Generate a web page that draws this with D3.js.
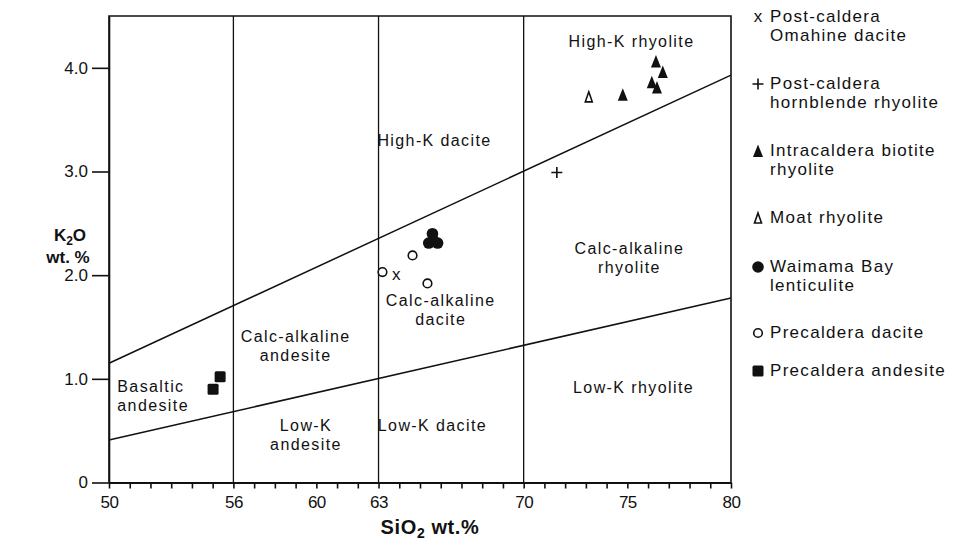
<!DOCTYPE html>
<html>
<head>
<meta charset="utf-8">
<script src="https://cdn.jsdelivr.net/npm/d3@7"></script>
<style>
  html, body { margin: 0; padding: 0; background: #fff; }
  svg { display: block; font-family: "Liberation Sans", Arial, sans-serif; }
  .lbl { font-size: 16px; letter-spacing: 1.4px; fill: #111; }
  .leg { font-size: 17px; letter-spacing: 1.3px; fill: #111; }
  .tick { font-size: 16px; fill: #111; }
</style>
</head>
<body>
<svg id="chart" width="956" height="542"></svg>
<script>
// axis ticks
const xTickLabels = [50, 56, 60, 63, 70, 75, 80];
const yTickLabels = [0, 1, 2, 3, 4];
const dividers = [56, 63, 70];

// boundary lines (SiO2, K2O)
const highKLine = [[50, 1.15], [80, 3.93]];
const lowKLine = [[50, 0.41], [80, 1.78]];

// samples
const omahineDacite = [[63.86, 2.0]];
const hornblendeRhyolite = [[71.6, 2.99]];
const biotiteRhyolite = [[76.38, 4.06], [76.71, 3.96], [76.18, 3.86], [76.43, 3.81], [74.78, 3.74]];
const moatRhyolite = [[73.14, 3.72]];
const lenticulite = [[65.6, 2.4], [65.42, 2.31], [65.85, 2.31], [65.63, 2.34]];
const precalderaDacite = [[63.19, 2.03], [64.64, 2.19], [65.36, 1.92]];
const precalderaAndesite = [[55.36, 1.02], [55.02, 0.9]];

// field names
const fieldLabels = [
  { x: 75.2, y: 4.2, lines: ["High-K rhyolite"] },
  { x: 65.7, y: 3.25, lines: ["High-K dacite"] },
  { x: 75.1, y: 2.2, lines: ["Calc-alkaline", "rhyolite"] },
  { x: 66.0, y: 1.7, lines: ["Calc-alkaline", "dacite"] },
  { x: 59.0, y: 1.36, lines: ["Calc-alkaline", "andesite"] },
  { x: 50.4, y: 0.87, lines: ["Basaltic", "andesite"], anchor: "start" },
  { x: 59.5, y: 0.5, lines: ["Low-K", "andesite"] },
  { x: 65.6, y: 0.5, lines: ["Low-K dacite"] },
  { x: 75.3, y: 0.86, lines: ["Low-K rhyolite"] }
];

const legendItems = [
  { sym: "x", lines: ["Post-caldera", "Omahine dacite"] },
  { sym: "plus", lines: ["Post-caldera", "hornblende rhyolite"] },
  { sym: "tri", lines: ["Intracaldera biotite", "rhyolite"] },
  { sym: "otri", lines: ["Moat rhyolite"] },
  { sym: "dot", lines: ["Waimama Bay", "lenticulite"] },
  { sym: "odot", lines: ["Precaldera dacite"] },
  { sym: "sq", lines: ["Precaldera andesite"] }
];
const legendRows = [22, 89, 156, 223, 272, 338, 376];

const svg = d3.select("#chart");
const x = d3.scaleLinear().domain([50, 80]).range([109, 731]);
const y = d3.scaleLinear().domain([0, 4.5]).range([482.5, 16]);
const ink = "#111";

// frame
svg.append("path")
  .attr("d", `M${x(50)},${y(0)}V${y(4.5)}H${x(80)}V${y(0)}`)
  .attr("fill", "none").attr("stroke", ink).attr("stroke-width", 1.6);

// vertical dividers
svg.selectAll(".div").data(dividers).join("line")
  .attr("x1", d => x(d)).attr("x2", d => x(d))
  .attr("y1", y(4.5)).attr("y2", y(0))
  .attr("stroke", ink).attr("stroke-width", 1.3);

const line = d3.line().x(d => x(d[0])).y(d => y(d[1]));
svg.selectAll(".bnd").data([highKLine, lowKLine]).join("path")
  .attr("d", line).attr("fill", "none").attr("stroke", ink).attr("stroke-width", 1.5);

// x axis
const xAxis = svg.append("g").attr("transform", `translate(0,${y(0)})`)
  .call(d3.axisBottom(x).tickValues(d3.range(50, 81)).tickSize(6).tickSizeOuter(0)
    .tickFormat(d => xTickLabels.includes(d) ? d : ""));
xAxis.select(".domain").attr("stroke", ink).attr("stroke-width", 2);
xAxis.selectAll(".tick line").attr("stroke", ink).attr("stroke-width", 1.6);
xAxis.selectAll(".tick text").attr("class", "tick").attr("dy", "1.05em").attr("y", 8).attr("fill", ink)
  .style("font-size", "17px").style("letter-spacing", "-0.5px");

// y axis
const yAxis = svg.append("g").attr("transform", `translate(${x(50)},0)`)
  .call(d3.axisLeft(y).tickValues(yTickLabels).tickSize(17).tickSizeOuter(0)
    .tickFormat(d => d === 0 ? "0" : d3.format(".1f")(d)));
yAxis.select(".domain").attr("stroke", ink).attr("stroke-width", 1.6);
yAxis.selectAll(".tick line").attr("stroke", ink).attr("stroke-width", 1.6);
yAxis.selectAll(".tick text").attr("class", "tick").attr("x", -21).attr("fill", ink)
  .style("font-size", "17px");

// axis titles
const yt = svg.append("text").attr("x", 70).attr("y", 241).attr("text-anchor", "middle")
  .attr("font-weight", "bold").attr("font-size", 17).attr("fill", ink);
yt.append("tspan").text("K");
yt.append("tspan").text("2").attr("font-size", 12).attr("dy", 4);
yt.append("tspan").text("O").attr("dy", -4);
svg.append("text").attr("x", 68).attr("y", 263).attr("text-anchor", "middle")
  .attr("font-weight", "bold").attr("font-size", 17).attr("fill", ink).text("wt. %");
const xt = svg.append("text").attr("x", 430).attr("y", 534).attr("text-anchor", "middle")
  .attr("font-weight", "bold").attr("font-size", 20).attr("letter-spacing", 0.6).attr("fill", ink);
xt.append("tspan").text("SiO");
xt.append("tspan").text("2").attr("font-size", 14).attr("dy", 4);
xt.append("tspan").text(" wt.%").attr("dy", -4);

// field labels
fieldLabels.forEach(f => {
  const t = svg.append("text").attr("class", "lbl")
    .attr("text-anchor", f.anchor || "middle")
    .attr("x", x(f.x)).attr("y", y(f.y));
  f.lines.forEach((s, i) => t.append("tspan").attr("x", x(f.x)).attr("dy", i ? 19 : 0).text(s));
});

// symbols
function drawSym(g, kind, cx, cy) {
  if (kind === "x") {
    g.append("text").attr("x", cx).attr("y", cy + 5).attr("text-anchor", "middle")
      .attr("font-size", 17).attr("fill", ink).text("x");
  } else if (kind === "plus") {
    g.append("path").attr("d", `M${cx - 5.5},${cy}H${cx + 5.5}M${cx},${cy - 5.5}V${cy + 5.5}`)
      .attr("stroke", ink).attr("stroke-width", 1.6);
  } else if (kind === "tri") {
    g.append("path").attr("d", `M${cx},${cy - 6.5}L${cx + 5},${cy + 6}L${cx - 5},${cy + 6}Z`)
      .attr("fill", ink);
  } else if (kind === "otri") {
    g.append("path").attr("d", `M${cx},${cy - 5}L${cx + 3.5},${cy + 5}L${cx - 3.5},${cy + 5}Z`)
      .attr("fill", "#fff").attr("stroke", ink).attr("stroke-width", 1.6);
  } else if (kind === "dot") {
    g.append("circle").attr("cx", cx).attr("cy", cy).attr("r", 5.8).attr("fill", ink);
  } else if (kind === "odot") {
    g.append("circle").attr("cx", cx).attr("cy", cy).attr("r", 4.3)
      .attr("fill", "#fff").attr("stroke", ink).attr("stroke-width", 1.6);
  } else if (kind === "sq") {
    g.append("rect").attr("x", cx - 5.5).attr("y", cy - 5.5).attr("width", 11).attr("height", 11)
      .attr("rx", 1.5).attr("fill", ink);
  }
}

const pts = svg.append("g");
const groups = [
  ["x", omahineDacite], ["plus", hornblendeRhyolite], ["tri", biotiteRhyolite],
  ["otri", moatRhyolite], ["dot", lenticulite], ["odot", precalderaDacite], ["sq", precalderaAndesite]
];
groups.forEach(([k, arr]) => arr.forEach(d => drawSym(pts, k, x(d[0]), y(d[1]))));

// legend
const leg = svg.append("g");
legendItems.forEach((it, i) => {
  const ry = legendRows[i];
  drawSym(leg, it.sym, 758, ry - 5);
  const t = leg.append("text").attr("class", "leg").attr("x", 770).attr("y", ry);
  it.lines.forEach((s, j) => t.append("tspan").attr("x", 770).attr("dy", j ? 19 : 0).text(s));
});
</script>
</body>
</html>
